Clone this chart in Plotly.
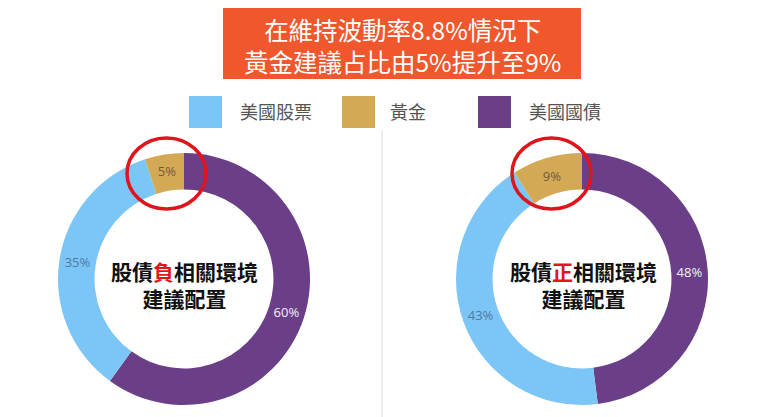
import plotly.graph_objects as go

# asset classes, in the order the slices run clockwise from 12 o'clock
labels = ['美國國債', '美國股票', '黃金']
colors = ['#6b3f88', '#7cc6f7', '#d4a955']
text_colors = ['#f2f2f2', '#4d7ba3', '#6e5b3c']

neg_corr = [60, 35, 5]   # 股債負相關
pos_corr = [48, 43, 9]   # 股債正相關

legend_order = ['美國股票', '黃金', '美國國債']

# the page body has an 8px margin, so the figure is a bit smaller than the window
OFF = 8
W, H = 760 - OFF, 417 - OFF
CJK = 'Noto Sans CJK TC'


def px(x):
    return (x - OFF) / W


def py(y):
    return 1 - (y - OFF) / H


def donut(values, cx, cy, r=126):
    return go.Pie(labels=labels, values=values, sort=False, direction='clockwise',
                  rotation=0, hole=0.71,
                  marker=dict(colors=colors, line=dict(width=0)),
                  texttemplate='%{value}%', textposition='inside',
                  insidetextorientation='horizontal',
                  textfont=dict(color=text_colors, size=13, family='Open Sans'),
                  hoverinfo='label+percent', showlegend=False,
                  domain=dict(x=[px(cx - r), px(cx + r)], y=[py(cy + r), py(cy - r)]))


fig = go.Figure()
fig.add_trace(donut(neg_corr, 184, 279))
fig.add_trace(donut(pos_corr, 582, 279))

shapes = []
# title box
shapes.append(dict(type='rect', xref='paper', yref='paper', x0=px(223), x1=px(581),
                   y0=py(79), y1=py(7), fillcolor='#f0572c', line=dict(width=0), layer='below'))
# divider
shapes.append(dict(type='line', xref='paper', yref='paper', x0=px(382), x1=px(382),
                   y0=py(130), y1=0, line=dict(color='#ededed', width=2)))
# red highlight circles round the gold slice
for x0, x1 in [(127, 206), (512, 591)]:
    shapes.append(dict(type='circle', xref='paper', yref='paper', x0=px(x0), x1=px(x1),
                       y0=py(209), y1=py(138), line=dict(color='#e0141c', width=3.5)))

annotations = [dict(text='在維持波動率8.8%情況下<br>黃金建議占比由5%提升至9%',
                    x=px(402), y=py(45), xref='paper', yref='paper', showarrow=False,
                    xanchor='center', yanchor='middle',
                    font=dict(family=CJK, size=24.5, color='white'), align='center')]

# custom legend: square + label
leg_pos = [(189, 238), (342, 388), (478, 527)]
color_of = dict(zip(labels, colors))
for name, (sx, tx) in zip(legend_order, leg_pos):
    shapes.append(dict(type='rect', xref='paper', yref='paper', x0=px(sx), x1=px(sx + 33),
                       y0=py(128), y1=py(96), fillcolor=color_of[name], line=dict(width=0)))
    annotations.append(dict(text=name, x=px(tx), y=py(111), xref='paper', yref='paper',
                            xanchor='left', yanchor='middle', showarrow=False,
                            font=dict(family=CJK, size=18, color='#555555')))

# centre captions
for word, cx in [('負', 184), ('正', 583)]:
    annotations.append(dict(text=f'<b>股債<span style="color:#e3161d">{word}</span>相關環境<br>建議配置</b>',
                            x=px(cx), y=py(284), xref='paper', yref='paper', showarrow=False,
                            xanchor='center', yanchor='middle',
                            font=dict(family=CJK, size=21, color='#111111'), align='center'))

fig.update_layout(width=W, height=H, margin=dict(l=0, r=0, t=0, b=0),
                  paper_bgcolor='white', plot_bgcolor='white',
                  shapes=shapes, annotations=annotations)

fig.write_html('out.html')
